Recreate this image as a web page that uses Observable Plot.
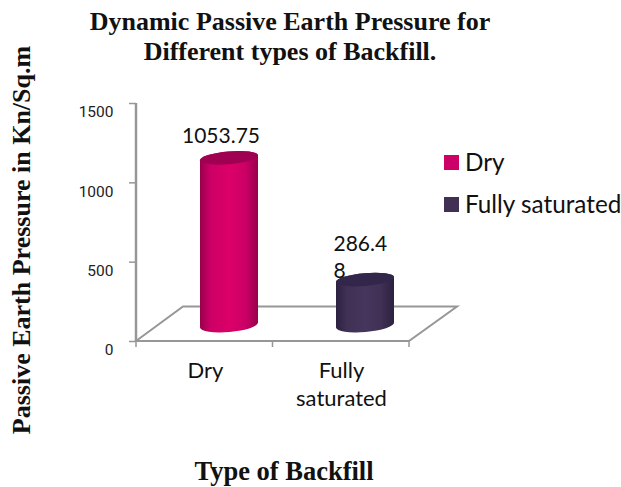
<!DOCTYPE html>
<html>
<head>
<meta charset="utf-8">
<script src="https://cdn.jsdelivr.net/npm/d3@7"></script>
<script src="https://cdn.jsdelivr.net/npm/@observablehq/plot@0.6"></script>
<style>
html,body{margin:0;padding:0;background:#fff;overflow:hidden}
#wrap{position:relative;width:621px;height:487px;overflow:hidden}
#title{height:90px;box-sizing:border-box;padding-top:7px;width:580px;text-align:center;font:bold 26px/30px "Liberation Serif",serif;color:#111}
#chart svg{display:block}
#xtitle{position:absolute;left:0;width:568px;top:456px;text-align:center;font:bold 26.5px/30px "Liberation Serif",serif;color:#111}
#ytitle{position:absolute;left:22px;top:240px;transform:translate(-50%,-50%) rotate(-90deg);white-space:nowrap;font:bold 26px/26px "Liberation Serif",serif;color:#111}
.lg{position:absolute;left:444px;font:24.3px/30px Lato,sans-serif;color:#111;white-space:nowrap}
.lg i{position:absolute;left:0;top:7px;width:15px;height:15px}
.lg span{position:absolute;left:21px;top:-1px}
</style>
</head>
<body>
<div id="wrap">
<div id="title">Dynamic Passive Earth Pressure for<br>Different types of Backfill.</div>
<div id="chart"></div>
<div id="ytitle">Passive Earth Pressure in Kn/Sq.m</div>
<div id="xtitle">Type of Backfill</div>
<div id="legend"></div>
</div>
<script>
const categories = ["Dry", "Fully saturated"];
const values = [1053.75, 286.48];
const valueLabels = ["1053.75", "286.4\n8"];
const tickLabels = ["Dry", "Fully\nsaturated"];
const yTicks = [0, 500, 1000, 1500];
const baseColors = ["#cc0066", "#3f3054"];
const edgeColors = ["#98004c", "#2c2140"];
const midColors = ["#dc0068", "#46365e"];
const capColors = ["#a00052", "#32264a"];

const rows = categories.map((category, i) => ({category, value: values[i], label: valueLabels[i]}));
const axisGray = "#979797";
const depthX = 47, depthY = 34.5;
const barDx = 24, barDy = -16;

function floorAndAxes(index, {x, y}, values, dims) {
  const L = dims.marginLeft, R = dims.width - dims.marginRight;
  const y0 = y(0), yTop = y(yTicks[yTicks.length - 1]);
  const g = d3.create("svg:g").attr("fill", "none").attr("stroke", axisGray);
  g.append("path").attr("stroke-width", 2)
    .attr("d", `M${L},${y0}L${L + depthX},${y0 - depthY}L${R + depthX + 1},${y0 - depthY}L${R},${y0}Z`);
  g.append("path").attr("stroke-width", 2.5).attr("d", `M${L},${yTop}L${L},${y0}`);
  const step = (R - L) / categories.length;
  d3.range(categories.length + 1).forEach(i => {
    g.append("path").attr("stroke-width", 1.5).attr("d", `M${L + i * step},${y0}v6`);
  });
  return g.node();
}

function cylinderRender(index, scales, channels, dims, ctx, next) {
  const g = next(index, scales, channels, dims, ctx);
  const sel = d3.select(g);
  const rot = -5, ry = 6.4, ryBottom = 7;
  const svgNS = sel.append("defs");
  sel.selectAll("rect").each(function(_, k) {
    const r = d3.select(this);
    const i = categories.indexOf(rows[index[k]].category);
    const bx = +r.attr("x"), by = +r.attr("y"), w = +r.attr("width"), h = +r.attr("height");
    const id = "cyl" + i;
    const grad = svgNS.append("linearGradient").attr("id", id);
    [[0, edgeColors[i]], [.18, baseColors[i]], [.5, midColors[i]], [.78, baseColors[i]], [1, edgeColors[i]]]
      .forEach(([o, c]) => grad.append("stop").attr("offset", o).attr("stop-color", c));
    const rx = w / 2 / Math.cos(rot * Math.PI / 180);
    const cx = bx + w / 2, dyEnd = rx * Math.sin(-rot * Math.PI / 180);
    const top = by, bot = by + h;
    sel.append("path").attr("fill", `url(#${id})`)
      .attr("d", `M${bx},${top + dyEnd}L${bx},${bot + dyEnd}` +
        `A${rx},${ryBottom} ${rot} 0 0 ${bx + w},${bot - dyEnd}` +
        `L${bx + w},${top - dyEnd}A${rx},${ry} ${rot} 0 0 ${bx},${top + dyEnd}Z`);
    sel.append("ellipse").attr("fill", capColors[i])
      .attr("rx", rx).attr("ry", ry)
      .attr("transform", `translate(${cx},${top}) rotate(${rot})`);
    r.remove();
  });
  return g;
}

const fontMain = "Lato, sans-serif";
const chart = Plot.plot({
  width: 621,
  height: 330,
  marginLeft: 136,
  marginRight: 212,
  marginTop: 13,
  marginBottom: 79,
  style: {background: "#fff", overflow: "visible"},
  x: {domain: categories, paddingInner: 0.575, paddingOuter: 0.2875, label: null},
  y: {domain: [0, 1500], label: null},
  color: {domain: categories, range: baseColors},
  marks: [
    floorAndAxes,
    Plot.axisY({ticks: yTicks, tickSize: 7, stroke: axisGray, strokeWidth: 1.5, text: null, label: null}),
    Plot.axisY({ticks: yTicks, tickSize: 0, tickPadding: 23, dy: 9, fontSize: 15.5, fontFamily: "Roboto, sans-serif", fill: "#222", label: null, tickFormat: d => String(d)}),
    Plot.axisX({tickSize: 0, tickPadding: 17, fontSize: 22, fontFamily: fontMain, lineHeight: 1.27, fill: "#111", label: null,
      tickFormat: d => tickLabels[categories.indexOf(d)], lineAnchor: "top"}),
    Plot.barY(rows, {x: "category", y: "value", fill: "category", dx: barDx, dy: barDy, render: cylinderRender}),
    Plot.text(rows.filter(d => d.category === categories[0]), {x: "category", y: "value", text: "label", dx: 15.5, dy: -38,
      fontSize: 21, fontFamily: fontMain, fill: "#111", textAnchor: "middle"}),
    Plot.text(rows.filter(d => d.category === categories[1]), {x: "category", y: "value", text: "label", dx: -8, dy: -40,
      fontSize: 21, lineHeight: 1.3, fontFamily: fontMain, fill: "#111", textAnchor: "start"})
  ]
});
document.getElementById("chart").appendChild(chart);

const legend = document.getElementById("legend");
const legendTops = [148, 190];
categories.forEach((c, i) => {
  const d = document.createElement("div");
  d.className = "lg";
  d.style.top = legendTops[i] + "px";
  d.innerHTML = `<i style="background:${baseColors[i]}"></i><span>${c}</span>`;
  legend.appendChild(d);
});
</script>
</body>
</html>
